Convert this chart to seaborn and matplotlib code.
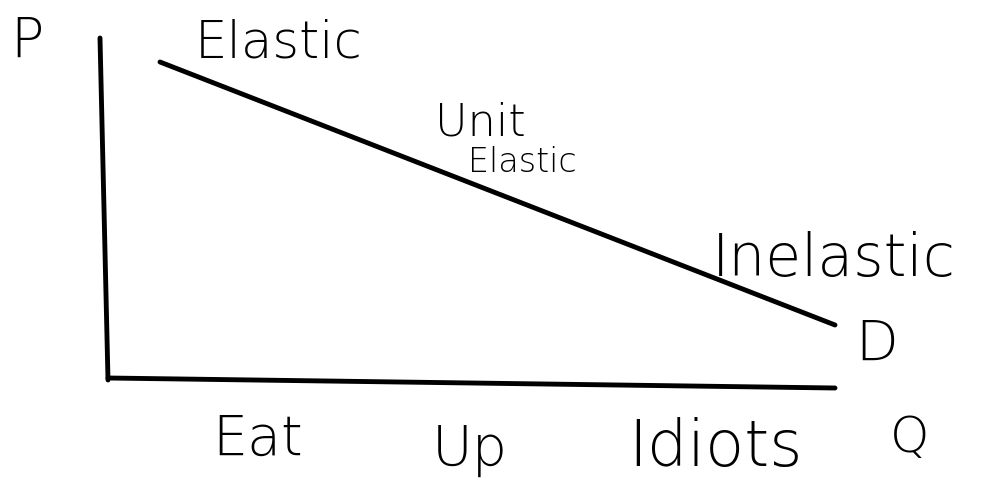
import matplotlib
matplotlib.use("Agg")
import matplotlib.pyplot as plt
import seaborn as sns

# demand curve (quantity, price) in sketch units
demand_q = [160, 835]
demand_p = [426, 163]

# hand-drawn axes
price_axis_q = [100, 108]
price_axis_p = [450, 108]
qty_axis_q = [108, 835]
qty_axis_p = [110, 100]

# labels along the curve and under the axis
curve_labels = ["Elastic", "Unit", "Elastic", "Inelastic", "D"]
axis_labels = ["P", "Q"]
bottom_words = ["Eat", "Up", "Idiots"]

sns.set_theme(style="white")
plt.rcParams['font.family'] = ['DejaVu Sans']

fig = plt.figure(figsize=(10.07, 4.88), dpi=100)
ax = fig.add_axes([0, 0, 1, 1])

sns.lineplot(x=demand_q, y=demand_p, ax=ax, color="black", linewidth=3.5, sort=False)
sns.lineplot(x=price_axis_q, y=price_axis_p, ax=ax, color="black", linewidth=3.5, sort=False)
sns.lineplot(x=qty_axis_q, y=qty_axis_p, ax=ax, color="black", linewidth=3.5, sort=False)

txt = dict(color="black", ha="left", va="center", fontweight="light")
ax.text(195, 445, curve_labels[0], fontsize=37, **txt)
ax.text(435, 365, curve_labels[1], fontsize=32, **txt)
ax.text(468, 325, curve_labels[2], fontsize=24, **txt)
ax.text(712, 228, curve_labels[3], fontsize=42, **txt)
ax.text(855, 143, curve_labels[4], fontsize=40, **txt)

ax.text(10, 446, axis_labels[0], fontsize=40, **txt)
ax.text(890, 50, axis_labels[1], fontsize=36, **txt)

ax.text(212, 48, bottom_words[0], fontsize=40, **txt)
ax.text(432, 38, bottom_words[1], fontsize=40, **txt)
ax.text(628, 40, bottom_words[2], fontsize=46, **txt)

ax.set_xlim(0, 1007)
ax.set_ylim(0, 488)
ax.axis("off")

fig.savefig("out.png", dpi=100)
